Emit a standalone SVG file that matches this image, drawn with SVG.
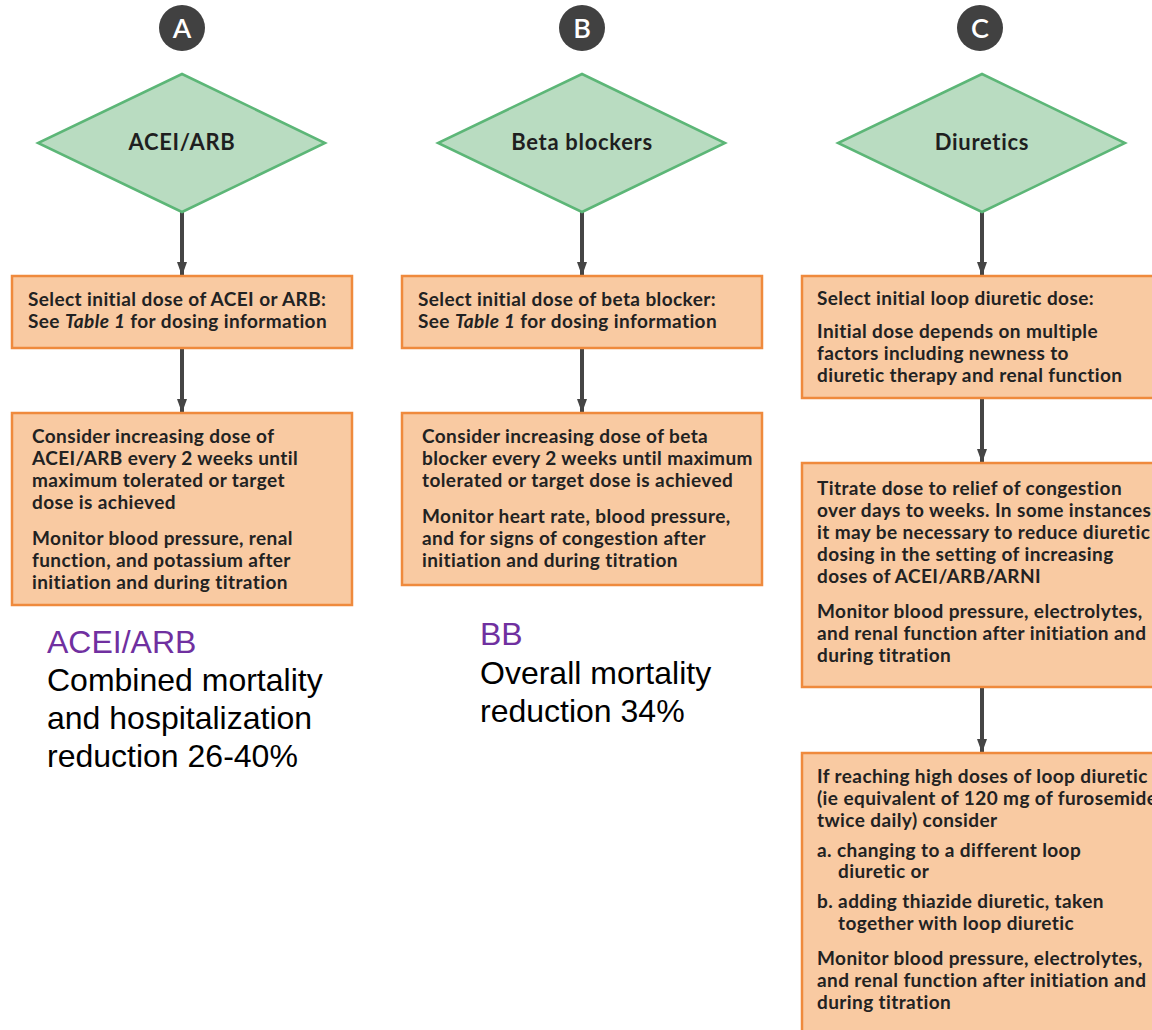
<svg xmlns="http://www.w3.org/2000/svg" width="1152" height="1030" viewBox="0 0 1152 1030">
  <defs>
    <marker id="arrowhead" viewBox="0 0 14 10" refX="14" refY="5" markerWidth="14" markerHeight="10" markerUnits="userSpaceOnUse" orient="auto">
      <path d="M0,0 L14,5 L0,10 Z" fill="#454545"/>
    </marker>
    <style>
      .badge { fill: #414141; }
      .badge-txt { font-family: Lato, "Noto Sans", sans-serif; font-weight: 600; font-size: 27px; fill: #ffffff; text-anchor: middle; }
      .diamond { fill: #b9dcc1; stroke: #5cb677; stroke-width: 2.5; }
      .diamond-txt { font-family: Lato, "Noto Sans", sans-serif; font-weight: 700; font-size: 22px; letter-spacing: 0.7px; fill: #1f1f1f; text-anchor: middle; }
      .box { fill: #f9caa2; stroke: #ef8a3d; stroke-width: 2.5; }
      .box-txt { font-family: Lato, "Noto Sans", sans-serif; font-weight: 700; font-size: 19px; letter-spacing: 0.4px; fill: #222222; }
      .conn { stroke: #454545; stroke-width: 4; fill: none; marker-end: url(#arrowhead); }
      .note-head { font-family: "Liberation Sans", Arial, sans-serif; font-size: 32px; fill: #7030a0; }
      .note { font-family: "Liberation Sans", Arial, sans-serif; font-size: 32px; fill: #000000; }
    </style>
  </defs>
  <rect width="1152" height="1030" fill="#ffffff"/>

  <!-- connectors -->
  <g id="connectors">
    <line class="conn" x1="182" y1="212" x2="182" y2="276"/>
    <line class="conn" x1="182" y1="349" x2="182" y2="413"/>
    <line class="conn" x1="582" y1="212" x2="582" y2="276"/>
    <line class="conn" x1="582" y1="349" x2="582" y2="413"/>
    <line class="conn" x1="982" y1="212" x2="982" y2="276"/>
    <line class="conn" x1="982" y1="399" x2="982" y2="463"/>
    <line class="conn" x1="982" y1="688" x2="982" y2="753"/>
  </g>

  <!-- column A: ACEI/ARB -->
  <g id="badge-a">
    <circle class="badge" cx="182" cy="28" r="23"/>
    <text class="badge-txt" x="182" y="38">A</text>
  </g>
  <g id="decision-a">
    <polygon class="diamond" points="182,74 325,143 182,212 38,143"/>
    <text class="diamond-txt" x="182" y="150">ACEI/ARB</text>
  </g>
  <g id="step-a1">
    <rect class="box" x="12" y="276" width="340" height="72"/>
    <text class="box-txt" x="28" y="306">Select initial dose of ACEI or ARB:</text>
    <text class="box-txt" x="28" y="328">See <tspan font-style="italic">Table 1</tspan> for dosing information</text>
  </g>
  <g id="step-a2">
    <rect class="box" x="12" y="413" width="340" height="192"/>
    <text class="box-txt" x="32" y="443">Consider increasing dose of</text>
    <text class="box-txt" x="32" y="465">ACEI/ARB every 2 weeks until</text>
    <text class="box-txt" x="32" y="487">maximum tolerated or target</text>
    <text class="box-txt" x="32" y="509">dose is achieved</text>
    <text class="box-txt" x="32" y="545">Monitor blood pressure, renal</text>
    <text class="box-txt" x="32" y="567">function, and potassium after</text>
    <text class="box-txt" x="32" y="589">initiation and during titration</text>
  </g>
  <g id="note-a">
    <text class="note-head" x="47" y="653">ACEI/ARB</text>
    <text class="note" x="47" y="691">Combined mortality</text>
    <text class="note" x="47" y="729">and hospitalization</text>
    <text class="note" x="47" y="767">reduction 26-40%</text>
  </g>

  <!-- column B: beta blockers -->
  <g id="badge-b">
    <circle class="badge" cx="582" cy="28" r="23"/>
    <text class="badge-txt" x="582" y="38">B</text>
  </g>
  <g id="decision-b">
    <polygon class="diamond" points="582,74 725,143 582,212 438,143"/>
    <text class="diamond-txt" x="582" y="150">Beta blockers</text>
  </g>
  <g id="step-b1">
    <rect class="box" x="402" y="276" width="360" height="72"/>
    <text class="box-txt" x="418" y="306">Select initial dose of beta blocker:</text>
    <text class="box-txt" x="418" y="328">See <tspan font-style="italic">Table 1</tspan> for dosing information</text>
  </g>
  <g id="step-b2">
    <rect class="box" x="402" y="413" width="360" height="172"/>
    <text class="box-txt" x="422" y="443">Consider increasing dose of beta</text>
    <text class="box-txt" x="422" y="465">blocker every 2 weeks until maximum</text>
    <text class="box-txt" x="422" y="487">tolerated or target dose is achieved</text>
    <text class="box-txt" x="422" y="523">Monitor heart rate, blood pressure,</text>
    <text class="box-txt" x="422" y="545">and for signs of congestion after</text>
    <text class="box-txt" x="422" y="567">initiation and during titration</text>
  </g>
  <g id="note-b">
    <text class="note-head" x="480" y="645">BB</text>
    <text class="note" x="480" y="684">Overall mortality</text>
    <text class="note" x="480" y="722">reduction 34%</text>
  </g>

  <!-- column C: diuretics -->
  <g id="badge-c">
    <circle class="badge" cx="980" cy="28" r="23"/>
    <text class="badge-txt" x="980" y="38">C</text>
  </g>
  <g id="decision-c">
    <polygon class="diamond" points="982,74 1125,143 982,212 838,143"/>
    <text class="diamond-txt" x="982" y="150">Diuretics</text>
  </g>
  <g id="step-c1">
    <rect class="box" x="802" y="276" width="362" height="122"/>
    <text class="box-txt" x="817" y="305">Select initial loop diuretic dose:</text>
    <text class="box-txt" x="817" y="338">Initial dose depends on multiple</text>
    <text class="box-txt" x="817" y="360">factors including newness to</text>
    <text class="box-txt" x="817" y="382">diuretic therapy and renal function</text>
  </g>
  <g id="step-c2">
    <rect class="box" x="802" y="463" width="362" height="224"/>
    <text class="box-txt" x="817" y="495">Titrate dose to relief of congestion</text>
    <text class="box-txt" x="817" y="517">over days to weeks. In some instances</text>
    <text class="box-txt" x="817" y="539">it may be necessary to reduce diuretic</text>
    <text class="box-txt" x="817" y="561">dosing in the setting of increasing</text>
    <text class="box-txt" x="817" y="583">doses of ACEI/ARB/ARNI</text>
    <text class="box-txt" x="817" y="618">Monitor blood pressure, electrolytes,</text>
    <text class="box-txt" x="817" y="640">and renal function after initiation and</text>
    <text class="box-txt" x="817" y="662">during titration</text>
  </g>
  <g id="step-c3">
    <rect class="box" x="802" y="753" width="362" height="290"/>
    <text class="box-txt" x="817" y="783">If reaching high doses of loop diuretic</text>
    <text class="box-txt" x="817" y="805">(ie equivalent of 120 mg of furosemide</text>
    <text class="box-txt" x="817" y="827">twice daily) consider</text>
    <text class="box-txt" x="817" y="857">a. changing to a different loop</text>
    <text class="box-txt" x="838" y="878">diuretic or</text>
    <text class="box-txt" x="817" y="908">b. adding thiazide diuretic, taken</text>
    <text class="box-txt" x="838" y="930">together with loop diuretic</text>
    <text class="box-txt" x="817" y="965">Monitor blood pressure, electrolytes,</text>
    <text class="box-txt" x="817" y="987">and renal function after initiation and</text>
    <text class="box-txt" x="817" y="1009">during titration</text>
  </g>
</svg>
